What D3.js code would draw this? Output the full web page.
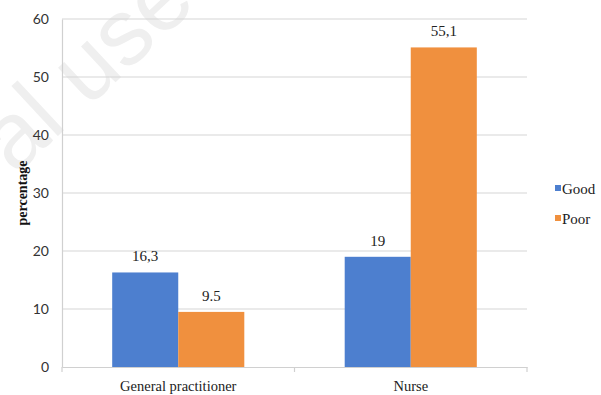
<!DOCTYPE html>
<html><head><meta charset="utf-8">
<script src="https://cdn.jsdelivr.net/npm/d3@7"></script>
<style>body{margin:0;background:#fff}svg{display:block}
.serif{font-family:"Liberation Serif","Times New Roman",serif}
.sans{font-family:"Lato","Liberation Sans",sans-serif}
</style>
</head><body>
<svg id="c" width="601" height="395"></svg>
<script>
const categories = ["General practitioner", "Nurse"];
const seriesNames = ["Good", "Poor"];
const goodValues = [16.3, 19];
const poorValues = [9.5, 55.1];
const goodLabels = ["16,3", "19"];
const poorLabels = ["9.5", "55,1"];
const yTicks = [0, 10, 20, 30, 40, 50, 60];
const colors = ["#4d7fcf", "#f0903e"];

const svg = d3.select("#c");
const m = {left: 62, right: 527, top: 19, bottom: 367};

// faint watermark
svg.append("text")
  .attr("transform", "translate(15,176) rotate(-43)")
  .style("font-family", "'Liberation Sans', Arial, sans-serif")
  .attr("font-size", 94)
  .attr("fill", "#efefef")
  .text("al use");

const x0 = d3.scaleBand().domain(categories).range([m.left, m.right]).padding(0);
const x1 = d3.scaleBand().domain(seriesNames).range([0, x0.bandwidth()]).paddingInner(0).paddingOuter(0.76);
const y = d3.scaleLinear().domain([0, 60]).range([m.bottom, m.top]);

// gridlines
svg.append("g").selectAll("line").data(yTicks.filter(d => d > 0)).join("line")
  .attr("x1", m.left).attr("x2", m.right)
  .attr("y1", d => y(d)).attr("y2", d => y(d))
  .attr("stroke", "#d6d6d6").attr("stroke-width", 1.2);

// y axis
const yAxis = d3.axisLeft(y).tickValues(yTicks).tickSize(0).tickPadding(13);
const gy = svg.append("g").attr("transform", `translate(${m.left},0)`).call(yAxis);
gy.attr("font-family", null);
gy.select(".domain").attr("stroke", "#d0d0d0").attr("stroke-width", 1.2);
gy.selectAll("text").attr("class", "sans").attr("font-size", 14).attr("fill", "#333");

// bars
const data = categories.map((c, i) => ({cat: c, vals: [
  {s: "Good", v: goodValues[i], l: goodLabels[i]},
  {s: "Poor", v: poorValues[i], l: poorLabels[i]}]}));
const g = svg.append("g").selectAll("g").data(data).join("g")
  .attr("transform", d => `translate(${x0(d.cat)},0)`);
g.selectAll("rect").data(d => d.vals).join("rect")
  .attr("x", d => x1(d.s)).attr("width", x1.bandwidth())
  .attr("y", d => y(d.v)).attr("height", d => y(0) - y(d.v))
  .attr("fill", (d, i) => colors[i]);
g.selectAll("text").data(d => d.vals).join("text")
  .attr("class", "serif")
  .attr("x", d => x1(d.s) + x1.bandwidth() / 2)
  .attr("y", d => y(d.v) - 11)
  .attr("text-anchor", "middle")
  .attr("font-size", 15).attr("fill", "#222")
  .text(d => d.l);

// x axis
const xAxis = d3.axisBottom(x0).tickSize(0).tickPadding(14);
const gx = svg.append("g").attr("transform", `translate(0,${m.bottom})`).call(xAxis);
gx.attr("font-family", null);
gx.select(".domain").attr("stroke", "#d0d0d0").attr("stroke-width", 1.2);
gx.selectAll("text").attr("class", "serif").attr("font-size", 14.5).attr("fill", "#222");
gx.selectAll(".bound").data(categories.map(c => x0(c)).concat([x0.range()[1]])).join("line")
  .attr("class", "bound")
  .attr("x1", d => d).attr("x2", d => d).attr("y1", 0).attr("y2", 5)
  .attr("stroke", "#d0d0d0").attr("stroke-width", 1.2);

// y label
svg.append("text")
  .attr("class", "serif")
  .attr("transform", `translate(27,${(m.top + m.bottom) / 2}) rotate(-90)`)
  .attr("text-anchor", "middle")
  .attr("font-weight", "bold").attr("font-size", 14).attr("fill", "#111")
  .text("percentage");

// legend
const lg = svg.append("g").selectAll("g").data(seriesNames).join("g")
  .attr("transform", (d, i) => `translate(555,${194 + i * 30})`);
lg.append("rect").attr("x", 0).attr("y", -9).attr("width", 6).attr("height", 6)
  .attr("fill", (d, i) => colors[i]);
lg.append("text").attr("class", "serif").attr("x", 7).attr("y", 0)
  .attr("font-size", 15).attr("fill", "#222")
  .text(d => d);
</script>
</body></html>
